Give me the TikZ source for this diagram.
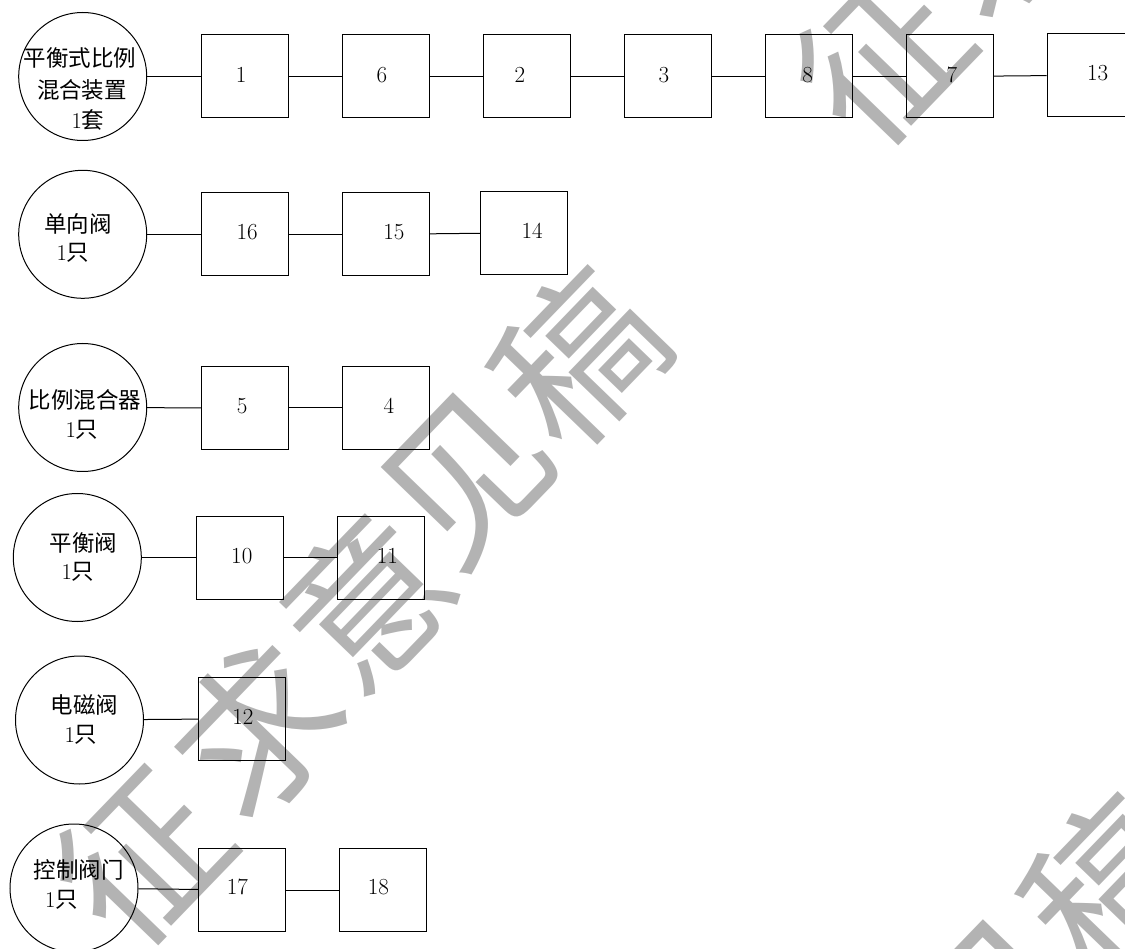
\documentclass[tikz,border=0pt]{standalone}
\usepackage{fontspec}
\newfontfamily\cjk{Noto Sans CJK SC}
\newfontfamily\wmfont{Noto Sans CJK SC}
\definecolor{wmgray}{RGB}{179,179,179}
\newcommand\dig[3]{\raisebox{#2pt}{\makebox[0pt]{\hspace*{#1pt}#3}}}
\begin{document}
\begin{tikzpicture}[x=1pt,y=-1pt,
  box/.style={draw,line width=1pt,minimum width=87pt,minimum height=83pt,inner sep=0pt,font=\fontsize{23}{23}\selectfont},
  circ/.style={draw,circle,line width=1pt,minimum size=128pt,inner sep=0pt},
  lbl/.style={inner sep=0pt,font=\fontsize{22.5}{22.5}\selectfont\cjk},
  wm/.style={text=wmgray,inner sep=0pt,rotate=46,font=\fontsize{162}{162}\selectfont\wmfont},
  link/.style={line width=1pt}]
\useasboundingbox (0,0) rectangle (1125,949);
\clip (0,0) rectangle (1125,949);
% watermark
\node[wm] (wmA1) at (142,857) {征};
\node[wm] (wmA2) at (258,730) {求};
\node[wm] (wmA3) at (366,600) {意};
\node[wm] (wmA4) at (468,479) {见};
\node[wm] (wmA5) at (578,357) {稿};
\node[wm] (wmB1) at (882,57) {征};
\node[wm] (wmB2) at (998,-70) {求};
\node[wm] (wmC4) at (998,1006) {见};
\node[wm] (wmC5) at (1108,884) {稿};
% row 1
\node[circ] (cA) at (82.7,76.5) {};
\node[lbl] (tA1) at (80,58) {平衡式比例};
\node[lbl] (tA2) at (82,90) {混合装置};
\node[lbl] (tA3) at (88,120) {{\rmfamily 1}套};
\node[box] (b1) at (245.2,76.5) {\dig{-8}{3}{1}};
\node[box] (b6) at (385.9,76.5) {\dig{-8}{3}{6}};
\node[box] (b2) at (527,76.5) {\dig{-14}{3}{2}};
\node[box] (b3) at (667.8,76.5) {\dig{-8}{3}{3}};
\node[box] (b8) at (808.7,76.5) {\dig{-2}{3}{8}};
\node[box] (b7) at (949.8,76.5) {\dig{4}{3}{7}};
\node[box] (b13) at (1090.7,75.2) {\dig{14}{4}{13}};
\draw[link] (cA) -- (b1);
\draw[link] (b1) -- (b6);
\draw[link] (b6) -- (b2);
\draw[link] (b2) -- (b3);
\draw[link] (b3) -- (b8);
\draw[link] (b8) -- (b7);
\draw[link] (b7) -- (b13);
% row 2
\node[circ] (cB) at (82.7,234.3) {};
\node[lbl] (tB1) at (78,224) {单向阀};
\node[lbl] (tB2) at (73,253) {{\rmfamily 1}只};
\node[box] (b16) at (245.2,234.3) {\dig{4}{4}{16}};
\node[box] (b15) at (385.9,234.3) {\dig{16}{4}{15}};
\node[box] (b14) at (524.1,232.8) {\dig{16}{4}{14}};
\draw[link] (cB) -- (b16);
\draw[link] (b16) -- (b15);
\draw[link] (b15) -- (b14);
% row 3
\node[circ] (cC) at (82.7,407.5) {};
\node[lbl] (tC1) at (85,400) {比例混合器};
\node[lbl] (tC2) at (82,430) {{\rmfamily 1}只};
\node[box] (b5) at (245.2,408) {\dig{-6}{4}{5}};
\node[box] (b4) at (385.9,408) {\dig{6}{4}{4}};
\draw[link] (cC) -- (b5);
\draw[link] (b5) -- (b4);
% row 4
\node[circ] (cD) at (77.3,557.5) {};
\node[lbl] (tD1) at (83.6,542.7) {平衡阀};
\node[lbl] (tD2) at (78,571.7) {{\rmfamily 1}只};
\node[box] (b10) at (239.8,557.5) {\dig{4}{2.5}{10}};
\node[box] (b11) at (380.9,557.5) {\dig{13}{2.5}{11}};
\draw[link] (cD) -- (b10);
\draw[link] (b10) -- (b11);
% row 5
\node[circ] (cE) at (79.5,720) {};
\node[lbl] (tE1) at (84.5,705) {电磁阀};
\node[lbl] (tE2) at (81,735) {{\rmfamily 1}只};
\node[box] (b12) at (242.4,718.8) {\dig{1}{3}{12}};
\draw[link] (cE) -- (b12);
% row 6
\node[circ] (cF) at (74,888) {};
\node[lbl] (tF1) at (78.6,870) {控制阀门};
\node[lbl] (tF2) at (61.6,900) {{\rmfamily 1}只};
\node[box] (b17) at (242.4,890) {\dig{-10}{6}{17}};
\node[box] (b18) at (383.4,890) {\dig{-10}{6}{18}};
\draw[link] (cF) -- (b17);
\draw[link] (b17) -- (b18);
\end{tikzpicture}
\end{document}
